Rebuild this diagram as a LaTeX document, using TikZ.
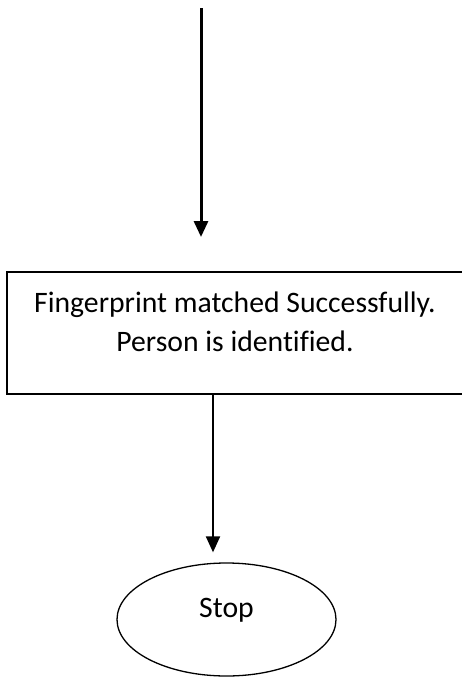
\documentclass[tikz,border=0pt]{standalone}
\usepackage{fontspec}
\setmainfont{Carlito}[Ligatures=CommonOff]
\usetikzlibrary{positioning}
\usetikzlibrary{shapes.geometric}
\usetikzlibrary{arrows.meta}

\begin{document}
\begin{tikzpicture}[x=1pt,y=1pt,
    procbox/.style={draw,line width=1.3pt,minimum width=456pt,minimum height=122pt,
        align=center,text height=56pt,text depth=20pt,font=\fontsize{29.7}{39}\selectfont},
    endbox/.style={draw,ellipse,line width=1.3pt,minimum width=219pt,minimum height=113pt,
        text height=10pt,text depth=15pt,font=\fontsize{29.7}{36}\selectfont},
    flow/.style={-{Triangle[width=14pt,length=16pt]}}]
    \useasboundingbox (0,0) rectangle (461,-680);
    \coordinate (in) at (201,-8);
    \coordinate (inend) at (201,-237);
    \draw [flow,line width=3pt] (in) -- (inend);
    \path (235,-333) node [procbox] (fp) {Fingerprint matched Successfully.\\Person is identified.};
    \path (226.5,-619.5) node [endbox] (stop) {Stop};
    \draw [flow,line width=2pt] ([xshift=-22pt]fp.south) -- ([xshift=-13.5pt,yshift=10pt]stop.north);
\end{tikzpicture}
\end{document}
